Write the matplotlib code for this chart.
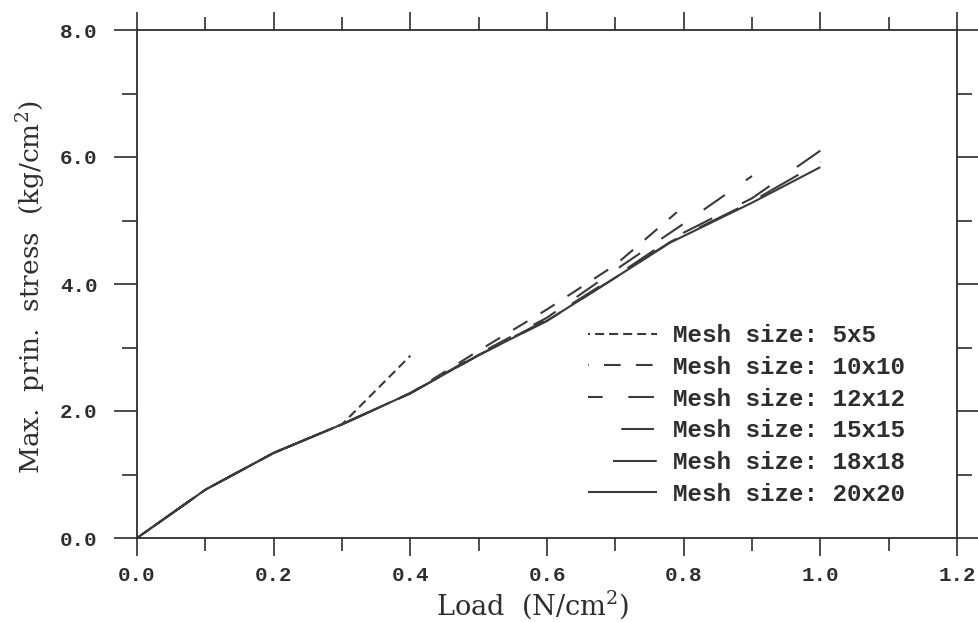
import numpy as np
import matplotlib
matplotlib.use("Agg")
import matplotlib.pyplot as plt
from matplotlib.ticker import MultipleLocator, FormatStrFormatter

# Load steps (N/cm^2) and maximum principal stress (kg/cm^2) for each mesh
load_5x5 = [0.0, 0.1, 0.2, 0.3, 0.4]
stress_5x5 = [0.0, 0.76, 1.34, 1.79, 2.87]

load_10x10 = [0.0, 0.1, 0.2, 0.3, 0.4, 0.5, 0.6, 0.7, 0.79]
stress_10x10 = [0.0, 0.76, 1.34, 1.79, 2.28, 2.95, 3.60, 4.30, 5.13]

load_12x12 = [0.0, 0.1, 0.2, 0.3, 0.4, 0.5, 0.6, 0.7, 0.8, 0.9]
stress_12x12 = [0.0, 0.76, 1.34, 1.79, 2.28, 2.90, 3.47, 4.22, 4.95, 5.70]

load_15x15 = [0.0, 0.1, 0.2, 0.3, 0.4, 0.5, 0.6, 0.7, 0.78, 0.9, 1.0]
stress_15x15 = [0.0, 0.76, 1.34, 1.79, 2.28, 2.88, 3.44, 4.12, 4.70, 5.35, 6.10]

load_18x18 = [0.0, 0.1, 0.2, 0.3, 0.4, 0.5, 0.6, 0.7, 0.78, 0.9, 1.0]
stress_18x18 = [0.0, 0.76, 1.34, 1.79, 2.28, 2.88, 3.42, 4.10, 4.66, 5.30, 5.92]

load_20x20 = [0.0, 0.1, 0.2, 0.3, 0.4, 0.5, 0.6, 0.7, 0.78, 0.9, 1.0]
stress_20x20 = [0.0, 0.76, 1.34, 1.79, 2.28, 2.88, 3.42, 4.10, 4.65, 5.28, 5.84]

labels = ["Mesh size: 5x5", "Mesh size: 10x10", "Mesh size: 12x12",
          "Mesh size: 15x15", "Mesh size: 18x18", "Mesh size: 20x20"]

plt.rcParams["lines.scale_dashes"] = False
plt.rcParams["mathtext.fontset"] = "dejavuserif"

ink = "#2e2e2e"
line_ink = "#3a3a3a"

series = [
    (load_5x5, stress_5x5, (5.0, (6.5, 3.6))),
    (load_10x10, stress_10x10, (11.5, (12.0, 11.0))),
    (load_12x12, stress_12x12, (8.0, (18.5, 18.5))),
    (load_15x15, stress_15x15, (23.5, (23.5, 24.0))),
    (load_18x18, stress_18x18, (31.5, (31.5, 18.0))),
    (load_20x20, stress_20x20, "-"),
]

fig = plt.figure(figsize=(9.79, 6.22), dpi=100)
fig.patch.set_facecolor("white")
ax = fig.add_axes([137 / 979, 1 - 538 / 622, 820 / 979, 508 / 622])

for (x, y, ls), lab in zip(series, labels):
    ax.plot(x, y, color=line_ink, lw=1.5, linestyle=ls, label=lab,
            solid_capstyle="butt", dash_capstyle="butt")

ax.set_xlim(0, 1.2)
ax.set_ylim(0, 8)
ax.xaxis.set_major_locator(MultipleLocator(0.2))
ax.xaxis.set_minor_locator(MultipleLocator(0.1))
ax.yaxis.set_major_locator(MultipleLocator(2.0))
ax.yaxis.set_minor_locator(MultipleLocator(1.0))
ax.xaxis.set_major_formatter(FormatStrFormatter("%.1f"))
ax.yaxis.set_major_formatter(FormatStrFormatter("%.1f"))

for s in ax.spines.values():
    s.set_linewidth(1.3)
    s.set_color(ink)

ax.tick_params(which="both", direction="out", top=True, right=True,
               color=ink, width=1.2, labelcolor=ink)
ax.tick_params(axis="x", which="major", length=13, pad=7)
ax.tick_params(axis="x", which="minor", length=9.5)
ax.tick_params(axis="y", which="major", length=16.5, pad=12)
ax.tick_params(axis="y", which="minor", length=11)

for lab in ax.get_xticklabels() + ax.get_yticklabels():
    lab.set_fontfamily("Liberation Mono")
    lab.set_fontweight("bold")
    lab.set_fontsize(15)

ax.set_xlabel(r"Load  (N/cm$^{2}$)", fontfamily="DejaVu Serif",
              fontsize=19.5, color=ink)
ax.set_ylabel(r"Max.  prin.  stress  (kg/cm$^{2}$)", fontfamily="DejaVu Serif",
              fontsize=19, color=ink)
ax.xaxis.set_label_coords(0.482, -0.098)
ax.yaxis.set_label_coords(-0.108, 0.494)

leg = ax.legend(loc="upper left", bbox_to_anchor=(0.55, 0.421),
                frameon=False, handlelength=2.84, handletextpad=0.66,
                labelspacing=0.36, borderpad=0, borderaxespad=0,
                prop={"family": "Liberation Mono", "weight": "bold", "size": 17.5})
for t in leg.get_texts():
    t.set_color(ink)

fig.savefig("out.png", dpi=100, facecolor="white")
